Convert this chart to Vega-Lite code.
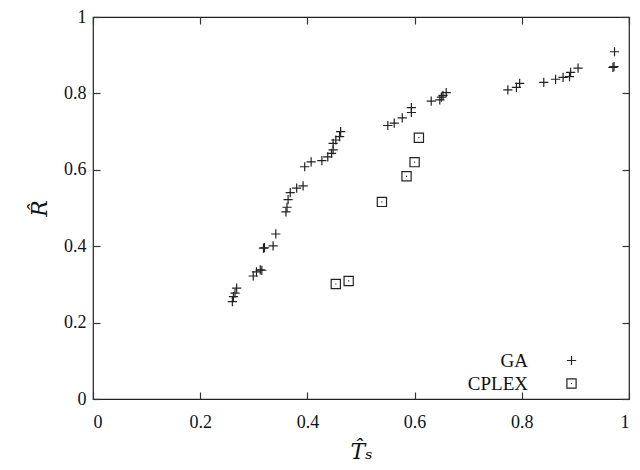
{
  "$schema": "https://vega.github.io/schema/vega-lite/v6.json",
  "width": 536,
  "height": 382,
  "autosize": {"type": "none"},
  "padding": {"left": 93, "top": 17, "right": 11, "bottom": 71},
  "background": "white",
  "config": {
    "view": {"stroke": "#222", "strokeWidth": 1.2},
    "font": "Liberation Serif",
    "axis": {
      "grid": false,
      "domain": false,
      "tickColor": "#333",
      "tickWidth": 1.2,
      "tickSize": -7,
      "labelColor": "#111",
      "labelFontSize": 18,
      "titleFontSize": 22,
      "titleFontStyle": "italic",
      "titleFontWeight": "normal",
      "titleColor": "#111"
    },
    "legend": {
      "labelFontSize": 19,
      "labelColor": "#111"
    }
  },
  "data": {
    "values": [
      {"Ts": 0.260, "R": 0.255, "method": "GA"},
      {"Ts": 0.262, "R": 0.268, "method": "GA"},
      {"Ts": 0.265, "R": 0.277, "method": "GA"},
      {"Ts": 0.268, "R": 0.290, "method": "GA"},
      {"Ts": 0.299, "R": 0.322, "method": "GA"},
      {"Ts": 0.305, "R": 0.333, "method": "GA"},
      {"Ts": 0.312, "R": 0.338, "method": "GA"},
      {"Ts": 0.315, "R": 0.337, "method": "GA"},
      {"Ts": 0.318, "R": 0.395, "method": "GA"},
      {"Ts": 0.320, "R": 0.396, "method": "GA"},
      {"Ts": 0.336, "R": 0.401, "method": "GA"},
      {"Ts": 0.341, "R": 0.432, "method": "GA"},
      {"Ts": 0.360, "R": 0.490, "method": "GA"},
      {"Ts": 0.362, "R": 0.502, "method": "GA"},
      {"Ts": 0.364, "R": 0.522, "method": "GA"},
      {"Ts": 0.368, "R": 0.540, "method": "GA"},
      {"Ts": 0.380, "R": 0.552, "method": "GA"},
      {"Ts": 0.392, "R": 0.558, "method": "GA"},
      {"Ts": 0.395, "R": 0.608, "method": "GA"},
      {"Ts": 0.407, "R": 0.621, "method": "GA"},
      {"Ts": 0.427, "R": 0.624, "method": "GA"},
      {"Ts": 0.438, "R": 0.634, "method": "GA"},
      {"Ts": 0.445, "R": 0.643, "method": "GA"},
      {"Ts": 0.448, "R": 0.652, "method": "GA"},
      {"Ts": 0.448, "R": 0.669, "method": "GA"},
      {"Ts": 0.453, "R": 0.678, "method": "GA"},
      {"Ts": 0.460, "R": 0.687, "method": "GA"},
      {"Ts": 0.462, "R": 0.700, "method": "GA"},
      {"Ts": 0.550, "R": 0.716, "method": "GA"},
      {"Ts": 0.562, "R": 0.722, "method": "GA"},
      {"Ts": 0.577, "R": 0.736, "method": "GA"},
      {"Ts": 0.594, "R": 0.750, "method": "GA"},
      {"Ts": 0.594, "R": 0.763, "method": "GA"},
      {"Ts": 0.631, "R": 0.780, "method": "GA"},
      {"Ts": 0.647, "R": 0.783, "method": "GA"},
      {"Ts": 0.650, "R": 0.790, "method": "GA"},
      {"Ts": 0.653, "R": 0.795, "method": "GA"},
      {"Ts": 0.659, "R": 0.802, "method": "GA"},
      {"Ts": 0.774, "R": 0.809, "method": "GA"},
      {"Ts": 0.790, "R": 0.816, "method": "GA"},
      {"Ts": 0.796, "R": 0.826, "method": "GA"},
      {"Ts": 0.841, "R": 0.829, "method": "GA"},
      {"Ts": 0.863, "R": 0.837, "method": "GA"},
      {"Ts": 0.877, "R": 0.842, "method": "GA"},
      {"Ts": 0.889, "R": 0.844, "method": "GA"},
      {"Ts": 0.891, "R": 0.855, "method": "GA"},
      {"Ts": 0.905, "R": 0.866, "method": "GA"},
      {"Ts": 0.970, "R": 0.868, "method": "GA"},
      {"Ts": 0.972, "R": 0.870, "method": "GA"},
      {"Ts": 0.973, "R": 0.909, "method": "GA"},
      {"Ts": 0.453, "R": 0.301, "method": "CPLEX"},
      {"Ts": 0.477, "R": 0.309, "method": "CPLEX"},
      {"Ts": 0.539, "R": 0.516, "method": "CPLEX"},
      {"Ts": 0.585, "R": 0.583, "method": "CPLEX"},
      {"Ts": 0.600, "R": 0.620, "method": "CPLEX"},
      {"Ts": 0.608, "R": 0.684, "method": "CPLEX"}
    ]
  },
  "layer": [
    {
      "mark": {"type": "point", "filled": false, "color": "#222", "strokeWidth": 1.2, "opacity": 1},
      "encoding": {
        "x": {
          "field": "Ts", "type": "quantitative",
          "scale": {"domain": [0, 1], "nice": false, "zero": false},
          "axis": {"orient": "bottom", "values": [0, 0.2, 0.4, 0.6, 0.8, 1], "format": "~g", "title": "T̂ₛ", "labelFont": "Liberation Serif", "titleFont": "DejaVu Serif", "labelPadding": 21, "titlePadding": 10}
        },
        "y": {
          "field": "R", "type": "quantitative",
          "scale": {"domain": [0, 1], "nice": false, "zero": false},
          "axis": {"orient": "left", "values": [0, 0.2, 0.4, 0.6, 0.8, 1], "format": "~g", "title": "R̂", "labelFont": "Liberation Serif", "titleFont": "DejaVu Serif", "labelPadding": 14, "titlePadding": 12}
        },
        "shape": {
          "field": "method", "type": "nominal",
          "scale": {"domain": ["GA", "CPLEX"], "range": ["M-1,0H1M0,-1V1", "M-1,-1H1V1H-1Z M-0.12,0H0.12"]},
          "legend": {
            "title": null,
            "orient": "none",
            "legendX": 469,
            "legendY": 334,
            "labelAlign": "right",
            "labelOffset": -53,
            "labelFont": "Liberation Serif",
            "symbolSize": 85,
            "symbolStrokeColor": "#222",
            "symbolFillColor": "transparent",
            "symbolStrokeWidth": 1.2,
            "rowPadding": 3
          }
        },
        "size": {"value": 85}
      }
    },
    {
      "mark": {"type": "point", "opacity": 0},
      "encoding": {
        "x": {
          "field": "Ts", "type": "quantitative",
          "scale": {"domain": [0, 1], "nice": false, "zero": false},
          "axis": {"orient": "top", "values": [0, 0.2, 0.4, 0.6, 0.8, 1], "labels": false, "title": null}
        },
        "y": {
          "field": "R", "type": "quantitative",
          "scale": {"domain": [0, 1], "nice": false, "zero": false},
          "axis": {"orient": "right", "values": [0, 0.2, 0.4, 0.6, 0.8, 1], "labels": false, "title": null}
        }
      }
    }
  ],
  "resolve": {"axis": {"x": "independent", "y": "independent"}}
}
